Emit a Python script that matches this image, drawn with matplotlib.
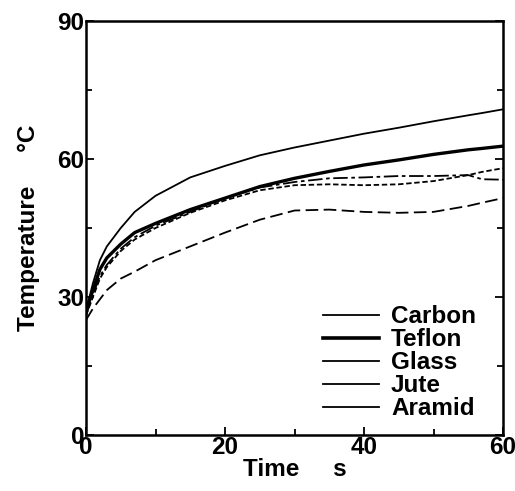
import matplotlib
matplotlib.use("Agg")
from matplotlib import pyplot as plt
from matplotlib.lines import Line2D
from matplotlib.ticker import MultipleLocator

plt.rcParams['font.family'] = ['Liberation Sans', 'DejaVu Sans']
plt.rcParams['font.weight'] = 'bold'

time_s = [0, 1, 2, 3, 5, 7, 10, 15, 20, 25, 30, 35, 40, 45, 50, 55, 57, 60]
carbon = [27, 33, 38, 41, 45, 48.5, 52, 56, 58.5, 60.8, 62.5, 64, 65.5, 66.8, 68.2, 69.5, 70, 70.8]
teflon = [27, 31.5, 36, 38.5, 41.5, 44, 46, 49, 51.5, 54, 55.8, 57.3, 58.7, 59.8, 61, 62, 62.3, 62.8]
glass = [26, 30.5, 34.5, 37, 40.5, 43, 45.5, 48.5, 51.5, 53.8, 55, 55.8, 56, 56.3, 56.3, 56.5, 55.6, 55.5]
jute = [26, 30, 34, 36.5, 40, 42.5, 45, 48.3, 51, 53.2, 54.3, 54.5, 54.3, 54.5, 55.2, 56.5, 57.2, 58]
aramid = [25, 27.5, 29.5, 31.5, 34, 35.5, 38, 41, 44, 46.8, 48.8, 49, 48.5, 48.3, 48.5, 49.8, 50.5, 51.5]

labels = ["Carbon", "Teflon", "Glass", "Jute", "Aramid"]

fig = plt.figure(figsize=(5.15, 4.91), dpi=100)
ax = fig.add_axes([86 / 515, 56 / 491, 417 / 515, 414 / 491])

ax.plot(time_s, carbon, color="black", lw=1.3)
ax.plot(time_s, teflon, color="black", lw=2.4)
ax.plot(time_s, glass, color="black", lw=1.3, dashes=(8, 2, 2, 2))
ax.plot(time_s, jute, color="black", lw=1.3, dashes=(3, 1.5))
ax.plot(time_s, aramid, color="black", lw=1.3, dashes=(7, 3))

ax.set_xlim(0, 60)
ax.set_ylim(0, 90)
ax.xaxis.set_major_locator(MultipleLocator(20))
ax.xaxis.set_minor_locator(MultipleLocator(10))
ax.yaxis.set_major_locator(MultipleLocator(30))
ax.yaxis.set_minor_locator(MultipleLocator(15))
ax.tick_params(which="both", direction="in", width=1.3, labelsize=17.5, pad=1,
               top=False, right=True)
ax.tick_params(which="major", length=6)
ax.tick_params(which="minor", length=4)
for sp in ax.spines.values():
    sp.set_linewidth(1.8)

ax.set_xlabel("Time     s", fontsize=17.5, fontweight="bold", labelpad=-1)
ax.set_ylabel("Temperature     \u00b0C", fontsize=17.5, fontweight="bold", labelpad=13)

handles = [Line2D([], [], color="black", lw=2.6 if l == "Teflon" else 1.3) for l in labels]
ax.legend(handles, labels, loc="lower right", frameon=False, fontsize=17.5,
          handlelength=2.3, handletextpad=0.5, labelspacing=0.0,
          borderaxespad=0.2, bbox_to_anchor=(0.97, 0.0))

fig.savefig("out.png", dpi=100)
